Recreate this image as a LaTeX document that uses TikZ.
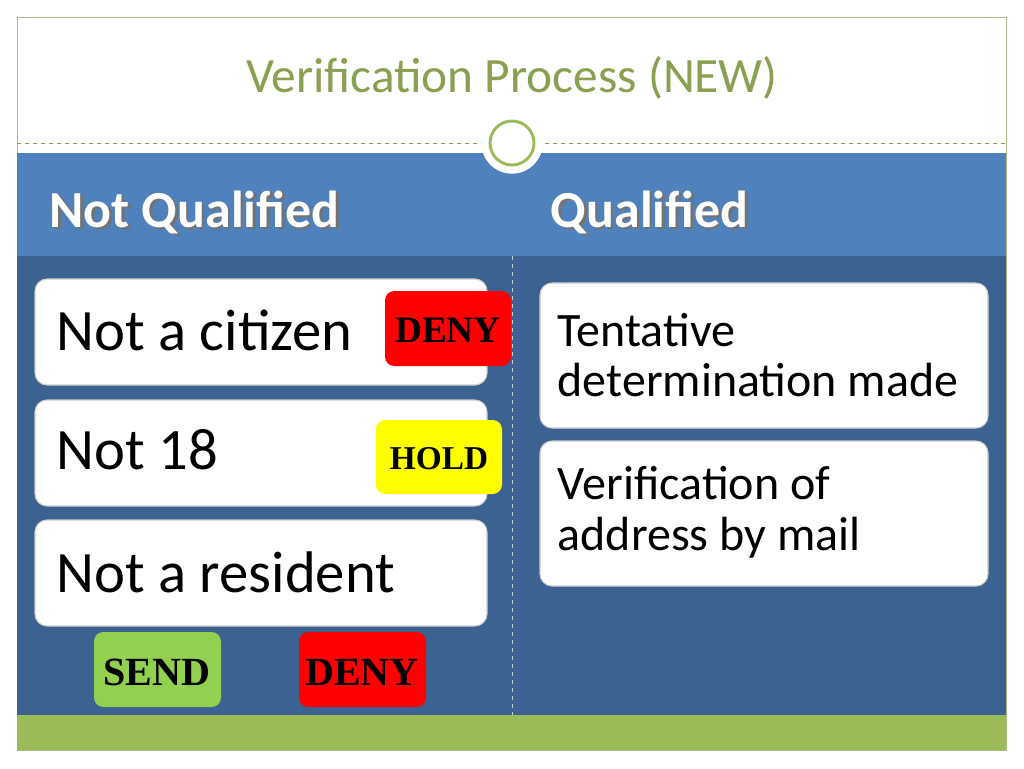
\documentclass[tikz,border=0pt]{standalone}
\usepackage{fontspec}
\setmainfont{Carlito}
\newfontfamily\badgefont{Liberation Serif}
\definecolor{olive}{RGB}{138,160,80}
\definecolor{hdrblue}{RGB}{79,129,189}
\definecolor{bodyblue}{RGB}{60,98,146}
\definecolor{barg}{RGB}{155,187,89}
\definecolor{dred}{RGB}{255,0,0}
\definecolor{hyel}{RGB}{255,255,0}
\definecolor{sgreen}{RGB}{146,208,80}
\tikzset{
 card/.style={fill=white,rounded corners=9pt,draw=gray!40,line width=0.8pt},
 badge/.style={rounded corners=7pt,font=\badgefont\bfseries},
 big/.style={font=\fontsize{44}{50}\selectfont,anchor=west,align=left},
 med/.style={font=\fontsize{36}{38}\selectfont,anchor=west,align=left},
 hdr/.style={font=\fontsize{39}{44}\selectfont\bfseries,text=white,anchor=west}
}
\begin{document}
\begin{tikzpicture}[x=0.75pt,y=-0.75pt]
\useasboundingbox (0,0) rectangle (1024,768);
\fill[white] (0,0) rectangle (1024,768);
\draw[olive!70,line width=0.6pt] (17,17) rectangle (1006,750);
\node[text=olive,font=\fontsize{37}{42}\selectfont] (title) at (512,78) {Verification Process (NEW)};
\fill[hdrblue] (17,153) rectangle (1006,256);
\fill[bodyblue] (17,256) rectangle (1006,715);
\fill[barg] (17,715) rectangle (1006,750);
\draw[olive,dashed,line width=0.6pt] (17,143) -- (1006,143);
\draw[white!70!bodyblue,dashed,line width=0.6pt] (512,256) -- (512,715);
\node[circle,fill=white,minimum size=46pt,inner sep=0] (c) at (512,143) {};
\node[circle,draw=barg,line width=2.2pt,minimum size=33pt,inner sep=0] (ci) at (512,143) {};
\node[hdr,text=black!55] (h1s) at (47.5,214.5) {Not Qualified};
\node[hdr] (h1) at (45,212) {Not Qualified};
\node[hdr,text=black!55] (h2s) at (548.5,214.5) {Qualified};
\node[hdr] (h2) at (546,212) {Qualified};
\draw[card] (35,279) rectangle (487,385);
\draw[card] (35,400) rectangle (487,506);
\draw[card] (35,520) rectangle (487,626);
\draw[card] (540,283) rectangle (988,428);
\draw[card] (540,441) rectangle (988,586);
\node[big] (t1) at (52,330) {Not a citizen};
\node[big] (t2) at (52,450) {Not 18};
\node[big] (t3) at (52,572) {Not a resident};
\node[med] (t4) at (553,355) {Tentative\\determination made};
\node[med] (t5) at (553,512) {Verification of\\address by mail};
\fill[dred,badge] (385,291) rectangle (511,366);
\node[font=\badgefont\bfseries\fontsize{28}{30}\selectfont] (d1) at (448,330) {DENY};
\fill[hyel,badge] (376,420) rectangle (502,494);
\node[font=\badgefont\bfseries\fontsize{25}{28}\selectfont] (h) at (439,459) {HOLD};
\fill[sgreen,badge] (94,632) rectangle (221,707);
\node[font=\badgefont\bfseries\fontsize{30}{33}\selectfont] (s) at (157,672) {SEND};
\fill[dred,badge] (299,632) rectangle (426,707);
\node[font=\badgefont\bfseries\fontsize{30}{33}\selectfont] (d2) at (362,672) {DENY};
\end{tikzpicture}
\end{document}
